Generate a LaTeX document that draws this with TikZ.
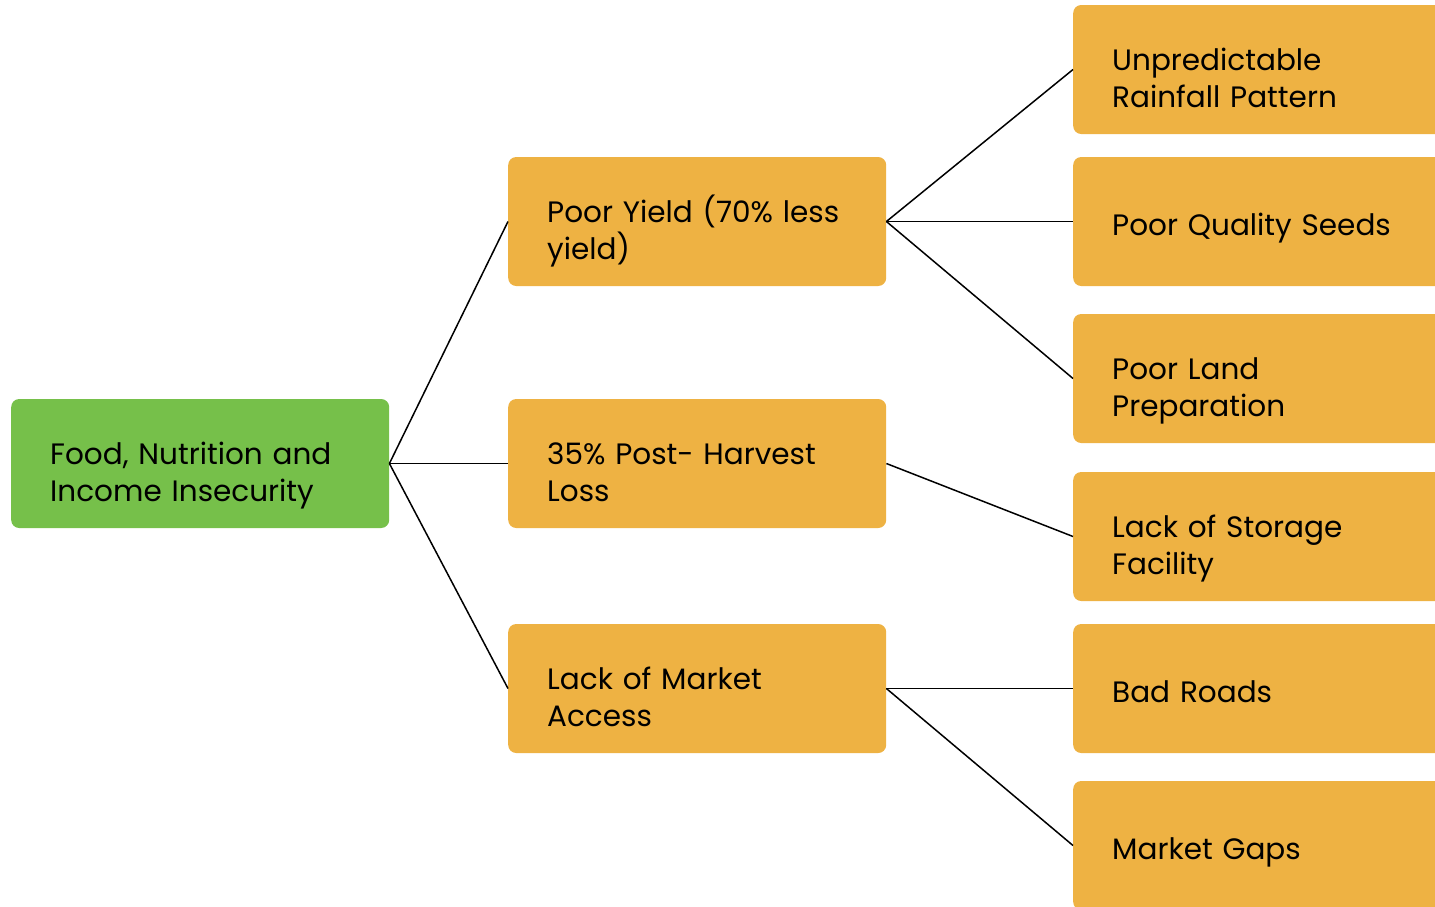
\documentclass[tikz,border=0pt]{standalone}
\usepackage{fontspec}
\setmainfont{Poppins}
\usepackage{tikz}

\definecolor{rootgreen}{HTML}{76C04A}
\definecolor{causeorange}{HTML}{EEB243}

\tikzset{
    box/.style={rounded corners=8pt, minimum height=129pt, anchor=west},
    rootbox/.style={box, fill=rootgreen, minimum width=378pt},
    midbox/.style={box, fill=causeorange, minimum width=378pt},
    leafbox/.style={box, fill=causeorange, minimum width=400pt},
    boxtext/.style={anchor=base west, inner sep=0pt, text width=330pt, align=left,
        font=\fontsize{29.5}{37}\selectfont},
    link/.style={line width=1.5pt}
}

\begin{document}
\begin{tikzpicture}[x=1pt,y=-1pt]
    \useasboundingbox (0,0) rectangle (1435,906);
    \clip (0,0) rectangle (1435,906);
    % root
    \node[rootbox] (root) at (11,463.5) {};
    % causes
    \node[midbox] (yield) at (508,221.5) {};
    \node[midbox] (loss) at (508,463.5) {};
    \node[midbox] (market) at (508,688.5) {};
    % root causes
    \node[leafbox] (rain) at (1073,69.5) {};
    \node[leafbox] (seeds) at (1073,221.5) {};
    \node[leafbox] (land) at (1073,378.5) {};
    \node[leafbox] (storage) at (1073,536.5) {};
    \node[leafbox] (roads) at (1073,688.5) {};
    \node[leafbox] (gaps) at (1073,845.5) {};
    % texts (base = first line)
    \node[boxtext] (root-t) at ([shift={(39,0.5)}]root.west) {Food, Nutrition and\\Income Insecurity};
    \node[boxtext] (yield-t) at ([shift={(39,0.5)}]yield.west) {Poor Yield (70\% less\\yield)};
    \node[boxtext] (loss-t) at ([shift={(39,0.5)}]loss.west) {35\% Post- Harvest\\Loss};
    \node[boxtext] (market-t) at ([shift={(39,0.5)}]market.west) {Lack of Market\\Access};
    \node[boxtext] (rain-t) at ([shift={(39,0.5)}]rain.west) {Unpredictable\\Rainfall Pattern};
    \node[boxtext] (seeds-t) at ([shift={(39,13.5)}]seeds.west) {Poor Quality Seeds};
    \node[boxtext] (land-t) at ([shift={(39,0.5)}]land.west) {Poor Land\\Preparation};
    \node[boxtext] (storage-t) at ([shift={(39,0.5)}]storage.west) {Lack of Storage\\Facility};
    \node[boxtext] (roads-t) at ([shift={(39,13.5)}]roads.west) {Bad Roads};
    \node[boxtext] (gaps-t) at ([shift={(39,13.5)}]gaps.west) {Market Gaps};
    % links
    \foreach \m in {yield,loss,market}
        \draw[link] (root.east) -- (\m.west);
    \foreach \l in {rain,seeds,land}
        \draw[link] (yield.east) -- (\l.west);
    \draw[link] (loss.east) -- (storage.west);
    \foreach \l in {roads,gaps}
        \draw[link] (market.east) -- (\l.west);
\end{tikzpicture}
\end{document}
